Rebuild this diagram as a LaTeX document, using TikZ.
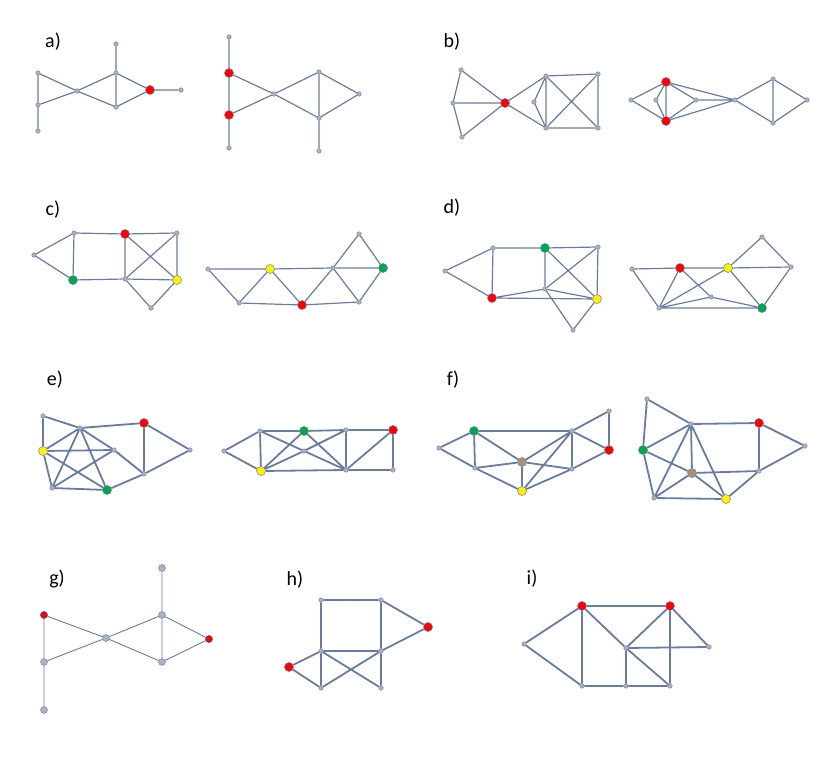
\documentclass[tikz,border=0pt]{standalone}
\usepackage{fontspec}
\setmainfont{Carlito}
\definecolor{ecol}{RGB}{104,124,162}
\definecolor{vfill}{RGB}{172,178,192}
\definecolor{vdraw}{RGB}{110,125,155}
\definecolor{gcol}{RGB}{0,166,80}
\definecolor{bcol}{RGB}{168,146,112}
\begin{document}
\begin{tikzpicture}[x=1pt,y=-1pt,
  v/.style={circle,fill=vfill,draw=vdraw,line width=0.4pt,inner sep=0pt,minimum size=4.5pt},
  vg/.style={circle,fill=vfill,draw=vdraw,line width=0.4pt,inner sep=0pt,minimum size=7pt},
  cv/.style={circle,draw=vdraw,line width=0.5pt,inner sep=0pt,minimum size=9pt},
  rv/.style={cv,fill=red},
  yv/.style={cv,fill=yellow},
  gv/.style={cv,fill=gcol},
  bv/.style={cv,fill=bcol},
  rs/.style={circle,draw=vdraw!60!black,fill=red,line width=0.5pt,inner sep=0pt,minimum size=7pt},
  e/.style={draw=ecol,line width=1.2pt},
  et/.style={draw=ecol,line width=1.8pt},
  en/.style={draw=ecol,line width=0.9pt},
  lab/.style={font=\fontsize{20}{24}\selectfont,text=black,inner sep=0pt}]
\useasboundingbox (0,0) rectangle (830,773);
% labels
\node[lab] (la) at (53,42) {a)};
\node[lab] (lb) at (452,42) {b)};
\node[lab] (lc) at (53,210) {c)};
\node[lab] (ld) at (452,208) {d)};
\node[lab] (le) at (55,380) {e)};
\node[lab] (lf) at (453,380) {f)};
\node[lab] (lg) at (57,579) {g)};
\node[lab] (lh) at (295,580) {h)};
\node[lab] (li) at (532,579) {i)};
% ---- a left
\node[v] (a1) at (38,73) {};
\node[v] (a2) at (38,105) {};
\node[v] (a3) at (38,131) {};
\node[v] (a4) at (77,91) {};
\node[v] (a5) at (116,73) {};
\node[v] (a6) at (116,44) {};
\node[v] (a7) at (116,107) {};
\node[rv] (a8) at (150,90) {};
\node[v] (a9) at (181,90) {};
\path[e] (a1)--(a2) (a2)--(a3) (a1)--(a4) (a2)--(a4) (a4)--(a5) (a4)--(a7) (a5)--(a7) (a5)--(a6) (a5)--(a8) (a7)--(a8) (a8)--(a9);
% ---- a right
\node[v] (A1) at (229,37) {};
\node[rv] (A2) at (229,73) {};
\node[rv] (A3) at (229,115) {};
\node[v] (A4) at (229,148) {};
\node[v] (A5) at (274,94) {};
\node[v] (A6) at (319,72) {};
\node[v] (A7) at (319,118) {};
\node[v] (A8) at (359,94) {};
\node[v] (A9) at (319,151) {};
\path[e] (A1)--(A2) (A2)--(A3) (A3)--(A4) (A2)--(A5) (A3)--(A5) (A5)--(A6) (A5)--(A7) (A6)--(A7) (A6)--(A8) (A7)--(A8) (A7)--(A9);
% ---- b left
\node[v] (b1) at (461,70) {};
\node[v] (b2) at (453,103) {};
\node[v] (b3) at (462,137) {};
\node[rv] (b4) at (505,103) {};
\node[v] (b5) at (546,76) {};
\node[v] (b6) at (598,74) {};
\node[v] (b7) at (546,128) {};
\node[v] (b8) at (598,128) {};
\node[v] (b9) at (534,102) {};
\path[e] (b1)--(b2) (b2)--(b3) (b1)--(b4) (b2)--(b4) (b3)--(b4) (b4)--(b5) (b4)--(b7) (b5)--(b6) (b5)--(b7) (b5)--(b8) (b6)--(b8) (b6)--(b7) (b7)--(b8) (b5)--(b9) (b9)--(b7);
% ---- b right
\node[v] (B1) at (631,100) {};
\node[rv] (B2) at (666,82) {};
\node[rv] (B3) at (666,121) {};
\node[v] (B4) at (656,100) {};
\node[v] (B5) at (696,100) {};
\node[v] (B6) at (735,100) {};
\node[v] (B7) at (773,79) {};
\node[v] (B8) at (773,123) {};
\node[v] (B9) at (807,100) {};
\path[e] (B1)--(B2) (B1)--(B3) (B2)--(B3) (B2)--(B4) (B4)--(B3) (B2)--(B5) (B3)--(B5) (B2)--(B6) (B3)--(B6) (B5)--(B6) (B6)--(B7) (B6)--(B8) (B7)--(B8) (B7)--(B9) (B8)--(B9);
% ---- c left
\node[v] (c1) at (34,255) {};
\node[v] (c2) at (74,233) {};
\node[rv] (c3) at (125,234) {};
\node[v] (c4) at (177,233) {};
\node[gv] (c5) at (73,280) {};
\node[v] (c6) at (125,279) {};
\node[yv] (c7) at (177,280) {};
\node[v] (c8) at (151,308) {};
\path[e] (c1)--(c2) (c1)--(c5) (c2)--(c3) (c2)--(c5) (c3)--(c4) (c3)--(c6) (c3)--(c7) (c4)--(c6) (c4)--(c7) (c5)--(c6) (c6)--(c7) (c6)--(c8) (c7)--(c8);
% ---- c right
\node[v] (C1) at (208,269) {};
\node[yv] (C2) at (270,269) {};
\node[v] (C3) at (333,268) {};
\node[gv] (C4) at (383,268) {};
\node[v] (C5) at (359,234) {};
\node[v] (C6) at (239,303) {};
\node[rv] (C7) at (302,305) {};
\node[v] (C8) at (359,302) {};
\path[e] (C1)--(C2) (C2)--(C3) (C3)--(C4) (C1)--(C6) (C6)--(C2) (C6)--(C7) (C2)--(C7) (C7)--(C3) (C7)--(C8) (C3)--(C8) (C8)--(C4) (C3)--(C5) (C5)--(C4);
% ---- d left
\node[v] (d1) at (445,271) {};
\node[v] (d2) at (493,248) {};
\node[gv] (d3) at (545,248) {};
\node[v] (d4) at (598,247) {};
\node[rv] (d5) at (492,298) {};
\node[v] (d6) at (545,289) {};
\node[yv] (d7) at (597,299) {};
\node[v] (d8) at (573,330) {};
\path[e] (d1)--(d2) (d1)--(d5) (d2)--(d3) (d2)--(d5) (d3)--(d4) (d3)--(d6) (d3)--(d7) (d4)--(d6) (d4)--(d7) (d5)--(d6) (d5)--(d7) (d6)--(d7) (d6)--(d8) (d7)--(d8);
% ---- d right
\node[v] (D1) at (632,269) {};
\node[rv] (D2) at (680,268) {};
\node[yv] (D3) at (728,268) {};
\node[v] (D4) at (791,267) {};
\node[v] (D5) at (762,237) {};
\node[v] (D6) at (659,308) {};
\node[v] (D7) at (711,297) {};
\node[gv] (D8) at (762,308) {};
\path[e] (D1)--(D2) (D2)--(D3) (D3)--(D4) (D1)--(D6) (D2)--(D6) (D2)--(D7) (D6)--(D3) (D6)--(D7) (D6)--(D8) (D7)--(D8) (D3)--(D8) (D3)--(D5) (D5)--(D4) (D4)--(D8);
% ---- e left
\node[v] (e1) at (43,416) {};
\node[v] (e2) at (80,428) {};
\node[rv] (e3) at (144,423) {};
\node[yv] (e4) at (43,451) {};
\node[v] (e5) at (114,450) {};
\node[v] (e6) at (190,450) {};
\node[v] (e7) at (52,488) {};
\node[gv] (e8) at (107,490) {};
\node[v] (e9) at (144,474) {};
\path[et] (e1)--(e2) (e1)--(e4) (e2)--(e3) (e2)--(e4) (e2)--(e5) (e2)--(e7) (e2)--(e8) (e4)--(e5) (e4)--(e7) (e4)--(e8) (e5)--(e7) (e7)--(e8) (e5)--(e9) (e3)--(e6) (e3)--(e9) (e6)--(e9) (e8)--(e9);
% ---- e right
\node[v] (E1) at (224,451) {};
\node[v] (E2) at (260,431) {};
\node[gv] (E3) at (304,431) {};
\node[v] (E4) at (346,430) {};
\node[rv] (E5) at (393,430) {};
\node[yv] (E6) at (261,471) {};
\node[v] (E7) at (304,451) {};
\node[v] (E8) at (346,470) {};
\node[v] (E9) at (393,470) {};
\path[et] (E1)--(E2) (E1)--(E6) (E2)--(E3) (E3)--(E4) (E4)--(E5) (E2)--(E6) (E2)--(E7) (E7)--(E8) (E6)--(E7) (E7)--(E4) (E6)--(E3) (E3)--(E8) (E6)--(E8) (E4)--(E8) (E8)--(E5) (E5)--(E9) (E8)--(E9);
% ---- f left
\node[v] (f1) at (439,448) {};
\node[gv] (f2) at (474,431) {};
\node[v] (f3) at (572,431) {};
\node[v] (f4) at (609,411) {};
\node[rv] (f5) at (609,450) {};
\node[v] (f6) at (475,468) {};
\node[bv] (f7) at (522,462) {};
\node[v] (f8) at (572,469) {};
\node[yv] (f9) at (522,491) {};
\path[et] (f1)--(f2) (f1)--(f6) (f2)--(f3) (f2)--(f6) (f2)--(f7) (f3)--(f7) (f3)--(f9) (f3)--(f8) (f3)--(f4) (f3)--(f5) (f4)--(f5) (f5)--(f8) (f6)--(f7) (f6)--(f9) (f7)--(f8) (f7)--(f9) (f8)--(f9);
% ---- f right
\node[v] (F1) at (647,399) {};
\node[v] (F2) at (691,424) {};
\node[rv] (F3) at (759,423) {};
\node[v] (F4) at (805,446) {};
\node[gv] (F5) at (643,450) {};
\node[bv] (F6) at (692,473) {};
\node[v] (F7) at (759,471) {};
\node[v] (F8) at (654,498) {};
\node[yv] (F9) at (726,499) {};
\path[et] (F1)--(F2) (F1)--(F5) (F2)--(F3) (F2)--(F5) (F2)--(F6) (F2)--(F8) (F2)--(F9) (F3)--(F4) (F3)--(F7) (F4)--(F7) (F5)--(F6) (F5)--(F8) (F6)--(F7) (F6)--(F8) (F6)--(F9) (F8)--(F9) (F7)--(F9);
% ---- g
\node[vg] (g1) at (162,568) {};
\node[rs] (g2) at (44,615) {};
\node[rs] (g3) at (209,639) {};
\node[vg] (g4) at (44,662) {};
\node[vg] (g5) at (44,710) {};
\node[vg] (g6) at (106,638) {};
\node[vg] (g7) at (162,615) {};
\node[vg] (g8) at (162,662) {};
\path[en] (g2)--(g4) (g4)--(g5) (g2)--(g6) (g4)--(g6) (g6)--(g7) (g6)--(g8) (g7)--(g8) (g7)--(g1) (g7)--(g3) (g8)--(g3);
% ---- h
\node[v] (h1) at (321,600) {};
\node[v] (h2) at (381,600) {};
\node[rv] (h3) at (428,627) {};
\node[rv] (h4) at (289,667) {};
\node[v] (h5) at (321,651) {};
\node[v] (h6) at (381,651) {};
\node[v] (h7) at (321,688) {};
\node[v] (h8) at (381,688) {};
\path[et] (h1)--(h2) (h1)--(h5) (h2)--(h6) (h2)--(h3) (h3)--(h6) (h4)--(h5) (h4)--(h7) (h5)--(h6) (h5)--(h8) (h6)--(h7) (h5)--(h7) (h6)--(h8);
% ---- i
\node[rv] (i1) at (582,606) {};
\node[rv] (i2) at (670,606) {};
\node[v] (i3) at (524,644) {};
\node[v] (i4) at (626,648) {};
\node[v] (i5) at (709,647) {};
\node[v] (i6) at (582,686) {};
\node[v] (i7) at (626,686) {};
\node[v] (i8) at (670,686) {};
\path[et] (i3)--(i1) (i3)--(i6) (i1)--(i2) (i1)--(i6) (i1)--(i4) (i2)--(i4) (i2)--(i5) (i2)--(i8) (i4)--(i5) (i4)--(i7) (i4)--(i8) (i6)--(i7) (i7)--(i8);
\end{tikzpicture}
\end{document}
